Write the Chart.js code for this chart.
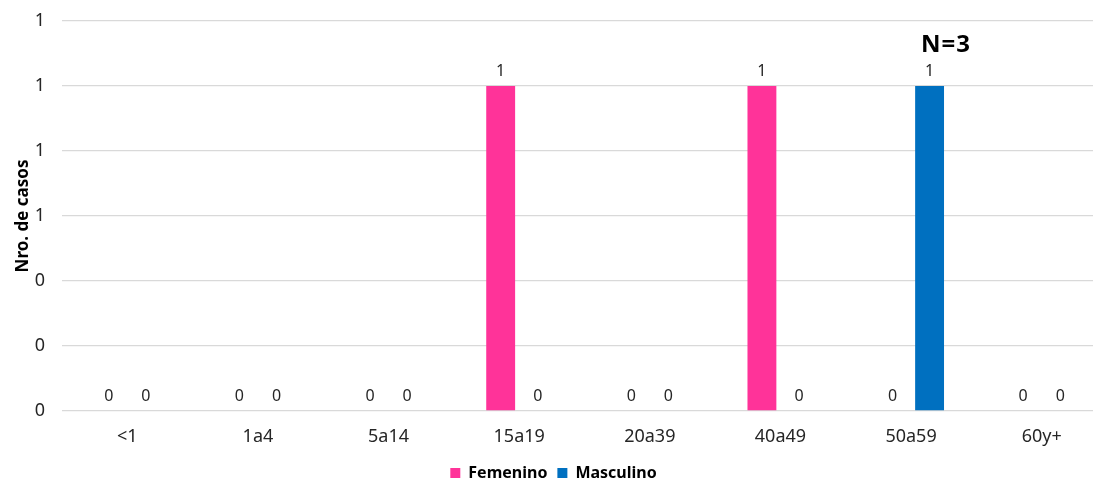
<!DOCTYPE html>
<html>
<head>
<meta charset="utf-8">
<script src="https://cdn.jsdelivr.net/npm/chart.js@4"></script>
<style>
html,body{margin:0;padding:0;background:#fff;overflow:hidden;}
#wrap{width:1107px;height:491px;position:relative;}
</style>
</head>
<body>
<div id="wrap"><canvas id="c"></canvas></div>
<script>
const categories = ['<1','1a4','5a14','15a19','20a39','40a49','50a59','60y+'];
const femenino = [0,0,0,1,0,1,0,0];
const masculino = [0,0,0,0,0,0,1,0];
const seriesNames = ['Femenino','Masculino'];
const seriesColors = ['#FF3399','#0070C0'];
const yTicks = {min:0, max:1.2, step:0.2};
const annotationText = 'N=3';
const annotationCategory = '50a59';
const annotationValue = 1.125;

const FONT = "'Noto Sans', 'Open Sans', sans-serif";

const labelPlugin = {
  id:'labels',
  afterDatasetsDraw(chart){
    const ctx = chart.ctx;
    ctx.save();
    ctx.font = "16px " + FONT;
    ctx.fillStyle = '#262626';
    ctx.textAlign = 'center';
    ctx.textBaseline = 'alphabetic';
    chart.data.datasets.forEach((ds,i)=>{
      const meta = chart.getDatasetMeta(i);
      meta.data.forEach((bar,j)=>{
        ctx.fillText(String(ds.data[j]), bar.x, bar.y - 10);
      });
    });
    const xs = chart.scales.x, ys = chart.scales.y;
    const idx = categories.indexOf(annotationCategory);
    const px = xs.getPixelForValue(idx) + 35;
    const py = ys.getPixelForValue(annotationValue);
    ctx.font = "bold 24px " + FONT;
    ctx.fillStyle = '#000';
    ctx.textBaseline = 'middle';
    ctx.letterSpacing = '1px';
    ctx.fillText(annotationText, px, py);
    ctx.restore();
  }
};

new Chart(document.getElementById('c'), {
  type:'bar',
  data:{
    labels: categories,
    datasets:[
      {label:seriesNames[0], data:femenino, backgroundColor:seriesColors[0], categoryPercentage:0.567, barPercentage:0.78},
      {label:seriesNames[1], data:masculino, backgroundColor:seriesColors[1], categoryPercentage:0.567, barPercentage:0.78}
    ]
  },
  options:{
    responsive:true,
    maintainAspectRatio:false,
    animation:false,
    layout:{padding:{top:21,right:0,left:0,bottom:0}},
    plugins:{
      legend:{
        position:'bottom',
        labels:{
          boxWidth:10, boxHeight:10, padding:10,
          color:'#000',
          font:{family:FONT, size:16, weight:'bold'}
        }
      },
      tooltip:{enabled:false}
    },
    scales:{
      x:{
        grid:{display:false, drawTicks:false},
        border:{display:false},
        ticks:{color:'#262626', font:{family:FONT,size:18}, padding:15},
        afterFit(s){ s.height = 44; }
      },
      y:{
        min:yTicks.min, max:yTicks.max,
        grid:{color:'#d9d9d9', drawTicks:false, lineWidth:1.3},
        border:{display:false},
        ticks:{stepSize:yTicks.step, color:'#262626', font:{family:FONT,size:18}, padding:17,
          callback:v=>Number(v).toFixed(0)},
        title:{display:true, text:'Nro. de casos', color:'#000', font:{family:FONT,size:17,weight:'bold'}, padding:{top:13,bottom:0}},
        afterFit(s){ s.width = 62; s.paddingTop = 0; s.paddingBottom = 0; }
      }
    }
  },
  plugins:[labelPlugin]
});
</script>
</body>
</html>
